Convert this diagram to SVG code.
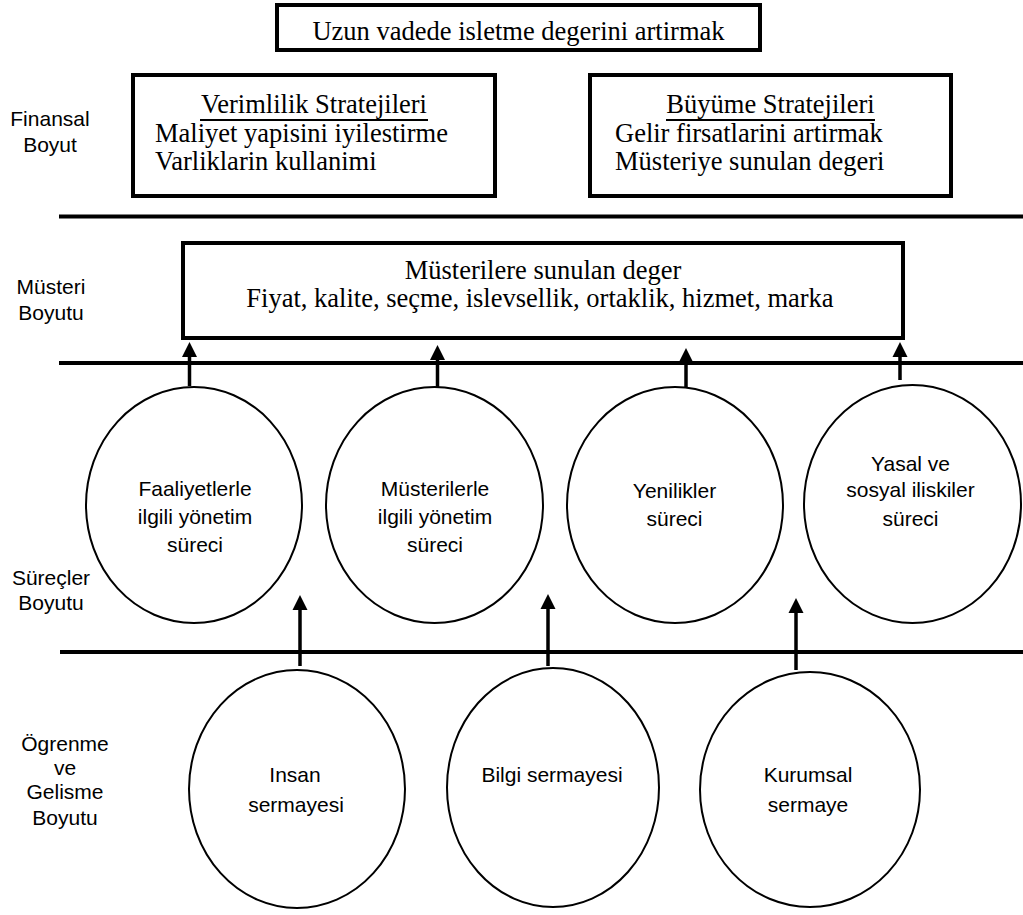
<svg xmlns="http://www.w3.org/2000/svg" width="1023" height="915" viewBox="0 0 1023 915">
  <style>
    .box { fill: #fff; stroke: #000; stroke-width: 4; }
    .oval { fill: #fff; stroke: #000; stroke-width: 2; }
    .rule { stroke: #000; stroke-width: 4; }
    .uline { stroke: #000; stroke-width: 2; }
    .serif { font-family: "Liberation Serif", "Times New Roman", serif; font-size: 26.5px; fill: #000; }
    .sans { font-family: "Liberation Sans", Arial, sans-serif; font-size: 21px; fill: #000; }
    .mid { text-anchor: middle; }
    .arrow { stroke: #000; stroke-width: 3.5; fill: none; marker-end: url(#head); }
  </style>
  <defs>
    <marker id="head" markerUnits="userSpaceOnUse" markerWidth="16" markerHeight="16" refX="5" refY="8" orient="auto">
      <path d="M0,0.5 L15,8 L0,15.5 z" fill="#000"/>
    </marker>
  </defs>
  <rect width="1023" height="915" fill="#fff"/>

  <!-- level dividers -->
  <g id="dividers">
    <line class="rule" x1="59" y1="216.5" x2="1023" y2="216.5"/>
    <line class="rule" x1="59" y1="363" x2="1023" y2="363"/>
    <line class="rule" x1="60" y1="652" x2="1023" y2="652"/>
  </g>

  <!-- dimension labels -->
  <g id="labels" class="sans mid">
    <text x="50" y="126">Finansal</text>
    <text x="50" y="152">Boyut</text>
    <text x="51" y="294">Müsteri</text>
    <text x="51" y="320">Boyutu</text>
    <text x="51" y="585">Süreçler</text>
    <text x="51" y="610">Boyutu</text>
    <text x="65" y="751">Ögrenme</text>
    <text x="65" y="775">ve</text>
    <text x="65" y="799">Gelisme</text>
    <text x="65" y="825">Boyutu</text>
  </g>

  <!-- financial goal -->
  <g id="goal">
    <rect class="box" x="277" y="5" width="483" height="45"/>
    <text class="serif mid" x="518.5" y="39.5">Uzun vadede isletme degerini artirmak</text>
  </g>

  <g id="efficiency">
    <rect class="box" x="133" y="75" width="362" height="121"/>
    <text class="serif mid" x="314" y="113">Verimlilik Stratejileri</text>
    <line class="uline" x1="200" y1="120" x2="428" y2="120"/>
    <text class="serif" x="155" y="141.5">Maliyet yapisini iyilestirme</text>
    <text class="serif" x="155" y="170">Varliklarin kullanimi</text>
  </g>

  <g id="growth">
    <rect class="box" x="590" y="75" width="361" height="121"/>
    <text class="serif mid" x="770.5" y="113">Büyüme Stratejileri</text>
    <line class="uline" x1="666" y1="120" x2="875" y2="120"/>
    <text class="serif" x="615" y="141.5">Gelir firsatlarini artirmak</text>
    <text class="serif" x="615" y="170">Müsteriye sunulan degeri</text>
  </g>

  <!-- customer value proposition -->
  <g id="customer-value">
    <rect class="box" x="183" y="243" width="720" height="95"/>
    <text class="serif mid" x="543" y="279">Müsterilere sunulan deger</text>
    <text class="serif mid" x="540" y="307">Fiyat, kalite, seçme, islevsellik, ortaklik, hizmet, marka</text>
  </g>

  <!-- internal processes -->
  <g id="process-operations">
    <ellipse class="oval" cx="194" cy="505" rx="108" ry="118"/>
    <text class="sans mid" x="195" y="496">Faaliyetlerle</text>
    <text class="sans mid" x="195" y="524">ilgili yönetim</text>
    <text class="sans mid" x="195" y="552">süreci</text>
  </g>
  <g id="process-customers">
    <ellipse class="oval" cx="434.5" cy="505" rx="108.5" ry="118"/>
    <text class="sans mid" x="435" y="496">Müsterilerle</text>
    <text class="sans mid" x="435" y="524">ilgili yönetim</text>
    <text class="sans mid" x="435" y="552">süreci</text>
  </g>
  <g id="process-innovation">
    <ellipse class="oval" cx="675" cy="505" rx="108" ry="118"/>
    <text class="sans mid" x="674.5" y="498">Yenilikler</text>
    <text class="sans mid" x="674.5" y="526">süreci</text>
  </g>
  <g id="process-regulatory">
    <ellipse class="oval" cx="912.5" cy="504" rx="108.5" ry="119"/>
    <text class="sans mid" x="910.5" y="471">Yasal ve</text>
    <text class="sans mid" x="910.5" y="497">sosyal iliskiler</text>
    <text class="sans mid" x="910.5" y="526">süreci</text>
  </g>

  <!-- learning and growth -->
  <g id="human-capital">
    <ellipse class="oval" cx="297" cy="789" rx="108" ry="119"/>
    <text class="sans mid" x="295" y="782">Insan</text>
    <text class="sans mid" x="296" y="812">sermayesi</text>
  </g>
  <g id="information-capital">
    <ellipse class="oval" cx="553" cy="787.5" rx="106" ry="119.5"/>
    <text class="sans mid" x="552" y="782">Bilgi sermayesi</text>
  </g>
  <g id="organization-capital">
    <ellipse class="oval" cx="810" cy="789.5" rx="110" ry="117.5"/>
    <text class="sans mid" x="808" y="782">Kurumsal</text>
    <text class="sans mid" x="808" y="812">sermaye</text>
  </g>

  <!-- connectors -->
  <g id="connectors">
    <line class="arrow" x1="189.5" y1="386" x2="189.5" y2="352"/>
    <line class="arrow" x1="437.5" y1="387" x2="437.5" y2="355"/>
    <line class="arrow" x1="686" y1="387" x2="686" y2="358"/>
    <line class="arrow" x1="900" y1="380" x2="900" y2="352"/>
    <line class="arrow" x1="300" y1="666" x2="300" y2="605"/>
    <line class="arrow" x1="548" y1="666" x2="548" y2="604"/>
    <line class="arrow" x1="796" y1="670" x2="796" y2="608"/>
  </g>
</svg>
